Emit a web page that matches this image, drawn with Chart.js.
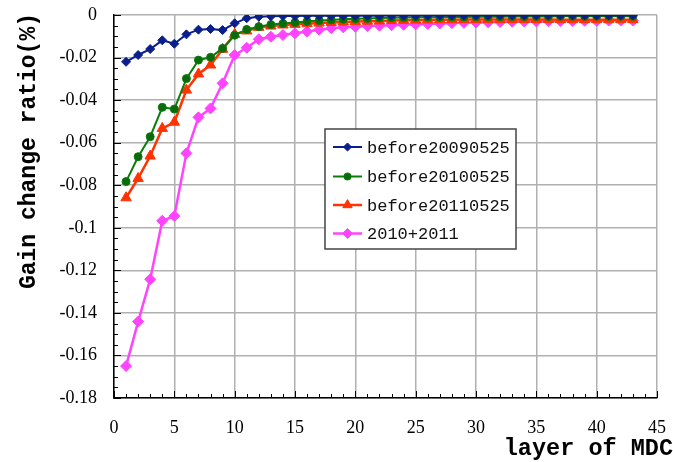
<!DOCTYPE html>
<html>
<head>
<meta charset="utf-8">
<script src="https://cdn.jsdelivr.net/npm/chart.js@4.4.1/dist/chart.umd.min.js"></script>
<style>
html,body{margin:0;padding:0;background:#fff;}
#wrap{width:673px;height:462px;position:relative;}
</style>
</head>
<body>
<div id="wrap"><canvas id="c" width="673" height="462"></canvas></div>
<script>
const layers = Array.from({length: 43}, (_, i) => i + 1);
const seriesNames = ['before20090525', 'before20100525', 'before20110525', '2010+2011'];
const before20090525 = [-0.0220,-0.0188,-0.0160,-0.0119,-0.0135,-0.0091,-0.0069,-0.0066,-0.0071,-0.0039,
  -0.0015,-0.0008,-0.0006,-0.0005,-0.0005,-0.0004,-0.0004,-0.0004,-0.0003,-0.0003,
  -0.0003,-0.0003,-0.0002,-0.0002,-0.0002,-0.0002,-0.0002,-0.0002,-0.0001,-0.0001,
  -0.0001,-0.0001,-0.0001,-0.0001,-0.0001,-0.0001,-0.0001,-0.0001,-0.0001,-0.0001,
  -0.0001,-0.0001,-0.0001];
const before20100525 = [-0.0783,-0.0666,-0.0572,-0.0434,-0.0442,-0.0299,-0.0212,-0.0199,-0.0157,-0.0095,
  -0.0068,-0.0055,-0.0045,-0.0040,-0.0035,-0.0030,-0.0026,-0.0023,-0.0020,-0.0018,
  -0.0016,-0.0014,-0.0013,-0.0012,-0.0011,-0.0010,-0.0010,-0.0009,-0.0009,-0.0008,
  -0.0008,-0.0008,-0.0007,-0.0007,-0.0007,-0.0007,-0.0006,-0.0006,-0.0006,-0.0006,
  -0.0006,-0.0006,-0.0006];
const before20110525 = [-0.0859,-0.0768,-0.0663,-0.0533,-0.0504,-0.0353,-0.0277,-0.0235,-0.0161,-0.0091,
  -0.0075,-0.0058,-0.0052,-0.0047,-0.0044,-0.0041,-0.0038,-0.0035,-0.0033,-0.0031,
  -0.0029,-0.0028,-0.0026,-0.0025,-0.0024,-0.0023,-0.0022,-0.0022,-0.0021,-0.0021,
  -0.0021,-0.0021,-0.0021,-0.0021,-0.0021,-0.0021,-0.0022,-0.0022,-0.0022,-0.0022,
  -0.0022,-0.0022,-0.0022];
const s2010plus2011 = [-0.1650,-0.1441,-0.1242,-0.0967,-0.0945,-0.0650,-0.0481,-0.0439,-0.0321,-0.0188,
  -0.0154,-0.0114,-0.0102,-0.0094,-0.0086,-0.0078,-0.0069,-0.0062,-0.0058,-0.0055,
  -0.0052,-0.0050,-0.0048,-0.0046,-0.0044,-0.0042,-0.0040,-0.0038,-0.0037,-0.0035,
  -0.0034,-0.0033,-0.0032,-0.0031,-0.0030,-0.0029,-0.0028,-0.0028,-0.0027,-0.0027,
  -0.0026,-0.0026,-0.0026];
const xTitle = 'layer of MDC';
const yTitle = 'Gain change ratio(%)';

const toPts = arr => arr.map((v, i) => ({x: layers[i], y: v}));

const styles = [
  {color:'#0a1f8c', point:'rectRot', r:4.5, lw:2, bg:'#0a1f8c'},
  {color:'#0a7d0a', point:'circle', r:4, lw:2, bg:'#0b6a0b'},
  {color:'#ff3300', point:'triangle', r:6, lw:2.5, bg:'#ff3300'},
  {color:'#ff44ff', point:'rectRot', r:5.5, lw:2.5, bg:'#ff44ff'}
];
const allSeries = [before20090525, before20100525, before20110525, s2010plus2011];

const datasets = allSeries.map((arr, i) => ({
  label: seriesNames[i],
  data: toPts(arr),
  borderColor: styles[i].color,
  backgroundColor: styles[i].bg,
  pointBackgroundColor: styles[i].bg,
  pointBorderColor: styles[i].color,
  pointBorderWidth: 1,
  pointStyle: styles[i].point,
  pointRadius: styles[i].r,
  borderWidth: styles[i].lw,
  tension: 0,
  fill: false
}));

function drawMarker(ctx, style, x, y, r, fill, stroke) {
  ctx.save();
  ctx.fillStyle = fill; ctx.strokeStyle = stroke; ctx.lineWidth = 1;
  ctx.beginPath();
  if (style === 'rectRot') {
    ctx.moveTo(x, y - r); ctx.lineTo(x + r, y); ctx.lineTo(x, y + r); ctx.lineTo(x - r, y);
  } else if (style === 'triangle') {
    ctx.moveTo(x, y - r); ctx.lineTo(x + r * 0.87, y + r * 0.5); ctx.lineTo(x - r * 0.87, y + r * 0.5);
  } else {
    ctx.arc(x, y, r, 0, Math.PI * 2);
  }
  ctx.closePath(); ctx.fill(); ctx.stroke();
  ctx.restore();
}

const decor = {
  id: 'decor',
  afterDraw(chart) {
    const ctx = chart.ctx;
    const xs = chart.scales.x, ys = chart.scales.y;
    const ca = chart.chartArea;
    ctx.save();
    ctx.strokeStyle = '#000'; ctx.lineWidth = 1;
    for (let k = 0; k <= 36; k++) {
      const v = -0.18 + k * 0.005;
      const py = Math.round(ys.getPixelForValue(v)) + 0.5;
      const len = (k % 4 === 0) ? 7 : 4;
      ctx.beginPath(); ctx.moveTo(ca.left, py); ctx.lineTo(ca.left + len, py); ctx.stroke();
    }
    for (let k = 0; k <= 45; k++) {
      const px = Math.round(xs.getPixelForValue(k)) + 0.5;
      const len = (k % 5 === 0) ? 7 : 4;
      ctx.beginPath(); ctx.moveTo(px, ca.bottom); ctx.lineTo(px, ca.bottom - len); ctx.stroke();
    }
    ctx.fillStyle = '#000';
    ctx.font = 'bold 23.5px "Liberation Mono", "DejaVu Sans Mono", monospace';
    ctx.textAlign = 'right'; ctx.textBaseline = 'middle';
    ctx.fillText(xTitle, 673, 449);
    ctx.save();
    ctx.translate(29, 13);
    ctx.rotate(-Math.PI / 2);
    ctx.textAlign = 'right'; ctx.textBaseline = 'middle';
    ctx.font = 'bold 23px "Liberation Mono", "DejaVu Sans Mono", monospace';
    ctx.fillText(yTitle, 0, 0);
    ctx.restore();
    const bx = 325, by = 129, bw = 191, bh = 120;
    ctx.fillStyle = '#fff';
    ctx.fillRect(bx, by, bw, bh);
    ctx.strokeStyle = '#444'; ctx.lineWidth = 1.5;
    ctx.strokeRect(bx, by, bw, bh);
    const rows = [147, 176.5, 205, 233.5];
    ctx.font = '17px "Liberation Mono", "DejaVu Sans Mono", monospace';
    ctx.textAlign = 'left'; ctx.textBaseline = 'middle';
    chart.data.datasets.forEach((ds, i) => {
      const yy = rows[i];
      ctx.strokeStyle = ds.borderColor; ctx.lineWidth = ds.borderWidth;
      ctx.beginPath(); ctx.moveTo(333, yy); ctx.lineTo(362, yy); ctx.stroke();
      drawMarker(ctx, ds.pointStyle, 347.5, yy, ds.pointRadius * 0.9, ds.pointBackgroundColor, ds.pointBorderColor);
      ctx.fillStyle = '#111';
      ctx.fillText(ds.label, 367, yy + 1);
    });
    ctx.restore();
  }
};

new Chart(document.getElementById('c'), {
  type: 'line',
  data: { datasets },
  options: {
    responsive: false,
    animation: false,
    events: [],
    layout: { padding: { left: 0, right: 16, top: 15, bottom: 0 } },
    plugins: { legend: { display: false }, tooltip: { enabled: false } },
    scales: {
      x: {
        type: 'linear', min: 0, max: 45,
        afterFit(s) { s.height = 64; s.paddingLeft = 0; s.paddingRight = 0; },
        ticks: { stepSize: 5, padding: 19, color: '#000',
          font: { family: '"Liberation Serif", "DejaVu Serif", serif', size: 18 } },
        grid: { color: '#b0b0b0', lineWidth: 1.5, drawTicks: false },
        border: { display: true, color: '#000', width: 1.5 }
      },
      y: {
        type: 'linear', min: -0.18, max: 0,
        afterFit(s) { s.width = 114; s.paddingTop = 0; s.paddingBottom = 0; },
        ticks: { stepSize: 0.02, padding: 17, color: '#000',
          font: { family: '"Liberation Serif", "DejaVu Serif", serif', size: 18 },
          callback: v => String(Number(v.toFixed(2))) },
        grid: { color: '#b0b0b0', lineWidth: 1.5, drawTicks: false },
        border: { display: true, color: '#000', width: 1.5 }
      }
    }
  },
  plugins: [decor]
});
</script>
</body>
</html>
